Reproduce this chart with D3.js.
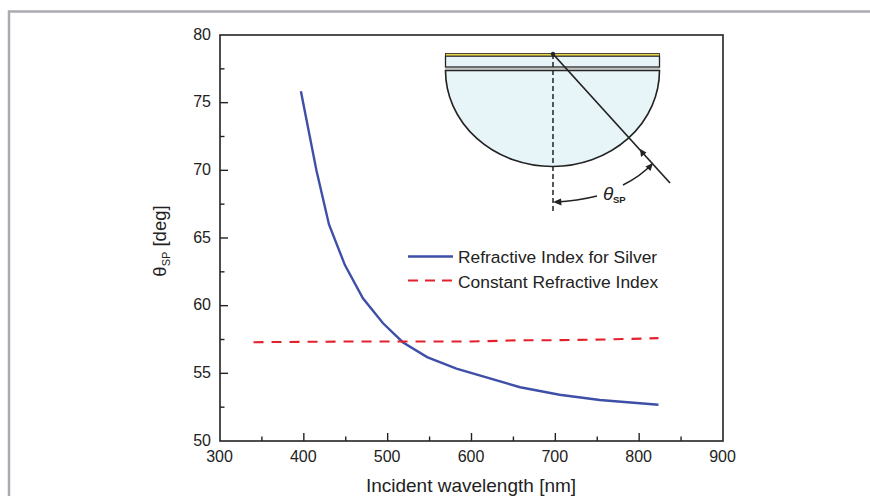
<!DOCTYPE html>
<html><head><meta charset="utf-8">
<script src="https://cdn.jsdelivr.net/npm/d3@7/dist/d3.min.js"></script>
<style>html,body{margin:0;padding:0;background:#fff}svg{display:block}text{font-family:"Liberation Sans",Arial,sans-serif;fill:#222}</style>
</head><body><svg id="c" width="870" height="496"></svg>
<script>
const silverWavelengths=[396.5,415,430,449,470.5,494.5,518,547,582,658,705,753,823];
const silverAngles=[75.85,70.0,66.0,63.0,60.55,58.7,57.3,56.2,55.35,53.97,53.42,53.03,52.68];
const constWavelengths=[340,450,520,600,660,700,760,823];
const constAngles=[57.3,57.35,57.35,57.35,57.45,57.45,57.5,57.6];
const xTicks=[300,400,500,600,700,800,900];
const xMinor=[350,450,550,650,750,850];
const yTicks=[50,55,60,65,70,75,80];
const yMinor=[52.5,57.5,62.5,67.5,72.5,77.5];
const seriesNames=["Refractive Index for Silver","Constant Refractive Index"];

const svg=d3.select("#c");
svg.append("path").attr("d","M9,496V11.5H870").attr("fill","none").attr("stroke","#a9abae").attr("stroke-width",2.5);
const x=d3.scaleLinear().domain([300,900]).range([220,723]);
const y=d3.scaleLinear().domain([50,80]).range([441,35]);
const ax=svg.append("g").attr("stroke","#222");
ax.append("rect").attr("x",x(300)).attr("y",y(80)).attr("width",x(900)-x(300)).attr("height",y(50)-y(80)).attr("fill","none").attr("stroke-width",1.6);
ax.selectAll(".xt").data(xTicks.slice(1,-1)).join("line").attr("x1",d=>x(d)).attr("x2",d=>x(d)).attr("y1",y(50)).attr("y2",y(50)-8).attr("stroke-width",1.4);
ax.selectAll(".xm").data(xMinor).join("line").attr("x1",d=>x(d)).attr("x2",d=>x(d)).attr("y1",y(50)).attr("y2",y(50)-4.5).attr("stroke-width",1.4);
ax.selectAll(".yt").data(yTicks.slice(1,-1)).join("line").attr("y1",d=>y(d)).attr("y2",d=>y(d)).attr("x1",x(300)).attr("x2",x(300)+8).attr("stroke-width",1.4);
ax.selectAll(".ym").data(yMinor).join("line").attr("y1",d=>y(d)).attr("y2",d=>y(d)).attr("x1",x(300)).attr("x2",x(300)+4.5).attr("stroke-width",1.4);
svg.selectAll(".xl").data(xTicks).join("text").attr("x",d=>x(d)-0.5).attr("y",462).attr("text-anchor","middle").attr("font-size",16).text(d=>d);
svg.selectAll(".yl").data(yTicks).join("text").attr("x",211).attr("y",d=>y(d)+4.5).attr("text-anchor","end").attr("font-size",16).text(d=>d);
svg.append("text").attr("x",471).attr("y",492).attr("text-anchor","middle").attr("font-size",19).text("Incident wavelength [nm]");
const yt=svg.append("text").attr("transform","translate(166,241) rotate(-90)").attr("text-anchor","middle").attr("font-size",18.5);
yt.append("tspan").text("θ");
yt.append("tspan").attr("font-size",11).attr("dy",4).text("SP");
yt.append("tspan").attr("dy",-4).text(" [deg]");

const line=d3.line().x(d=>x(d[0])).y(d=>y(d[1]));
const blue="#3f4fa8",red="#e3202b";
svg.append("path").attr("d",line(d3.zip(silverWavelengths,silverAngles))).attr("fill","none").attr("stroke",blue).attr("stroke-width",2.4);
svg.append("path").attr("d",line(d3.zip(constWavelengths,constAngles))).attr("fill","none").attr("stroke",red).attr("stroke-width",2.1).attr("stroke-dasharray","10 8");
svg.append("line").attr("x1",408).attr("x2",453).attr("y1",256.5).attr("y2",256.5).attr("stroke",blue).attr("stroke-width",2.4);
svg.append("line").attr("x1",408).attr("x2",453).attr("y1",280.5).attr("y2",280.5).attr("stroke",red).attr("stroke-width",2.1).attr("stroke-dasharray","10 7");
svg.selectAll(".lg").data(seriesNames).join("text").attr("x",458).attr("y",(d,i)=>262.5+i*25).attr("font-size",17.4).text(d=>d);

const ins=svg.append("g").attr("fill","none").attr("stroke","#222");
ins.append("path").attr("d","M445.5,70.5 A107,96 0 0 0 659.5,70.5 Z").attr("fill","#e8f5f8").attr("stroke-width",1.6);
ins.append("rect").attr("x",445.5).attr("y",56).attr("width",214).attr("height",11).attr("fill","#e8f5f8").attr("stroke-width",1.3);
ins.append("rect").attr("x",445.5).attr("y",53.5).attr("width",214).attr("height",2.5).attr("fill","#e8d44a").attr("stroke-width",0.8);
ins.append("line").attr("x1",445).attr("x2",660).attr("y1",69).attr("y2",69).attr("stroke","#aaa").attr("stroke-width",1.5);
ins.append("line").attr("x1",553).attr("y1",54).attr("x2",670).attr("y2",183).attr("stroke-width",1.7);
ins.append("line").attr("x1",553).attr("y1",54).attr("x2",553).attr("y2",212).attr("stroke-width",1.5).attr("stroke-dasharray","5 3");
ins.append("circle").attr("cx",553).attr("cy",54).attr("r",1.8).attr("fill","#222");
ins.append("path").attr("d","M597,196 Q577,201 556,202").attr("stroke-width",1.5);
ins.append("path").attr("d","M623,185 Q641,176 652,164").attr("stroke-width",1.5);
ins.append("path").attr("d","M553,202 l8,-3.5 l0.5,7 Z").attr("fill","#222").attr("stroke","none");
ins.append("path").attr("d","M653,163 l-2.5,8 l-5,-4.5 Z").attr("fill","#222").attr("stroke","none");
ins.append("path").attr("d","M640,149 l1,8 l5.5,-4.5 Z").attr("fill","#222").attr("stroke","none");
svg.append("text").attr("x",603).attr("y",200).attr("font-size",19).attr("font-style","italic").text("θ");
svg.append("text").attr("x",613).attr("y",203).attr("font-size",9.5).attr("font-weight","bold").text("SP");
</script></body></html>
